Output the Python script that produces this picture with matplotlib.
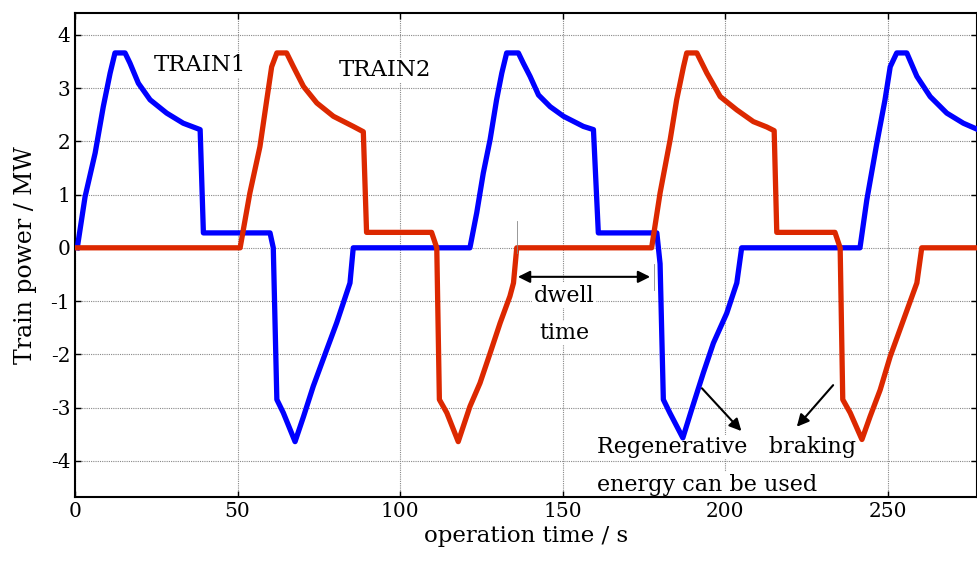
import matplotlib
matplotlib.use("Agg")
import matplotlib.pyplot as plt

# ---- data ----
train1_t = [0.7, 3.1, 6.2, 8.7, 10.8, 12.3, 15.4, 16.9, 19.5, 23.1, 28.2, 33.3, 38.5, 39.5,
            60.0, 61.0, 62.1, 64.1, 67.7, 70.3, 73.3, 77.4, 80.5, 84.6, 85.6,
            121.5, 123.6, 125.6, 127.7, 129.7, 131.3, 132.8, 136.4, 137.9, 140.0, 142.6, 146.2,
            150.3, 156.4, 159.5, 161.0,
            179.0, 180.0, 181.0, 183.0, 187.0, 189.7, 193.3, 196.4, 200.5, 203.6, 205.1,
            241.5, 243.6, 246.7, 249.2, 250.8, 252.8, 255.9, 259.0, 263.1, 268.2, 273.3, 277.8]
train1_p = [0.0, 0.96, 1.78, 2.65, 3.28, 3.66, 3.66, 3.47, 3.09, 2.78, 2.53, 2.34, 2.22, 0.28,
            0.28, 0.0, -2.85, -3.1, -3.64, -3.17, -2.6, -1.92, -1.41, -0.66, 0.0,
            0.0, 0.66, 1.40, 2.03, 2.78, 3.28, 3.66, 3.66, 3.47, 3.22, 2.87, 2.65,
            2.47, 2.28, 2.22, 0.28,
            0.28, -0.3, -2.85, -3.1, -3.57, -3.04, -2.35, -1.79, -1.23, -0.66, 0.0,
            0.0, 0.9, 1.97, 2.78, 3.4, 3.66, 3.66, 3.22, 2.84, 2.53, 2.34, 2.22]

train2_t = [0.7, 50.8, 53.8, 56.9, 59.0, 60.5, 62.1, 65.1, 67.2, 70.3, 74.4, 79.5, 85.6, 88.7, 89.7,
            109.7, 111.3, 112.1, 114.4, 117.9, 121.5, 124.6, 127.7, 130.8, 133.8, 134.9, 135.9,
            177.4, 180.0, 183.1, 185.1, 187.2, 188.2, 191.3, 194.4, 198.5, 203.6, 208.7, 212.8, 215.1, 215.9,
            233.8, 235.4, 236.2, 238.5, 242.1, 244.6, 247.7, 250.8, 254.9, 259.0, 260.5, 278.0]
train2_p = [0.0, 0.0, 1.03, 1.9, 2.78, 3.4, 3.66, 3.66, 3.4, 3.03, 2.72, 2.47, 2.28, 2.18, 0.29,
            0.29, 0.0, -2.85, -3.1, -3.64, -2.98, -2.54, -1.98, -1.41, -0.91, -0.66, 0.0,
            0.0, 1.03, 2.03, 2.78, 3.4, 3.66, 3.66, 3.28, 2.84, 2.59, 2.37, 2.27, 2.2, 0.29,
            0.29, 0.0, -2.85, -3.1, -3.6, -3.17, -2.67, -2.04, -1.35, -0.66, 0.0, 0.0]

x_ticks = [0, 50, 100, 150, 200, 250]
y_ticks = [-4, -3, -2, -1, 0, 1, 2, 3, 4]

plt.rcParams['font.family'] = ['DejaVu Serif']
plt.rcParams['axes.unicode_minus'] = False
fig = plt.figure(figsize=(9.78, 5.62), dpi=100)
ax = fig.add_axes([75/978, 1-497/562, (977-75)/978, (497-13)/562])

ax.plot(train1_t, train1_p, color='#0000FF', lw=3.8, solid_joinstyle='round', zorder=3)
ax.plot(train2_t, train2_p, color='#DC2800', lw=3.8, solid_joinstyle='round', zorder=3)

ax.set_xlim(0, 277.5)
ax.set_ylim(-4.68, 4.41)
ax.set_xticks(x_ticks)
ax.set_yticks(y_ticks)
ax.grid(True, color='#888888', linestyle=(0, (1, 1)), linewidth=0.8)
ax.tick_params(direction='in', top=True, right=True, labelsize=14.5, length=4, width=1)
for s in ax.spines.values():
    s.set_linewidth(1.5)
ax.set_xlabel('operation time / s', fontsize=16.5, labelpad=3)
ax.set_ylabel('Train power / MW', fontsize=17, labelpad=10)

bb = dict(facecolor='white', edgecolor='none', pad=1)
ax.text(38.5, 3.43, 'TRAIN1', fontsize=16.5, ha='center', va='center', bbox=bb, zorder=2)
ax.text(95.4, 3.34, 'TRAIN2', fontsize=16.5, ha='center', va='center', bbox=bb, zorder=2)
ax.text(150.5, -0.9, 'dwell', fontsize=16, ha='center', va='center', bbox=bb, zorder=2)
ax.text(150.5, -1.6, 'time', fontsize=16, ha='center', va='center', bbox=bb, zorder=2)
ax.text(160.5, -3.74, 'Regenerative   braking', fontsize=16, ha='left', va='center', bbox=bb, zorder=2)
ax.text(160.5, -4.45, 'energy can be used', fontsize=16, ha='left', va='center', bbox=bb, zorder=2)

# dwell time marker
ax.plot([135.9, 135.9], [0.5, -0.1], color='#888888', lw=0.6, zorder=4)
ax.plot([178.0, 178.0], [-0.3, -0.8], color='#888888', lw=0.6, zorder=4)
ax.annotate('', xy=(135.4, -0.545), xytext=(177.8, -0.545),
            arrowprops=dict(arrowstyle='<|-|>', color='black', lw=1.5, mutation_scale=18), zorder=5)
ax.annotate('', xy=(205.6, -3.48), xytext=(192.3, -2.6),
            arrowprops=dict(arrowstyle='-|>', color='black', lw=1.5, mutation_scale=18), zorder=5)
ax.annotate('', xy=(221.5, -3.4), xytext=(233.8, -2.54),
            arrowprops=dict(arrowstyle='-|>', color='black', lw=1.5, mutation_scale=18), zorder=5)

fig.savefig('out.png', dpi=100)
